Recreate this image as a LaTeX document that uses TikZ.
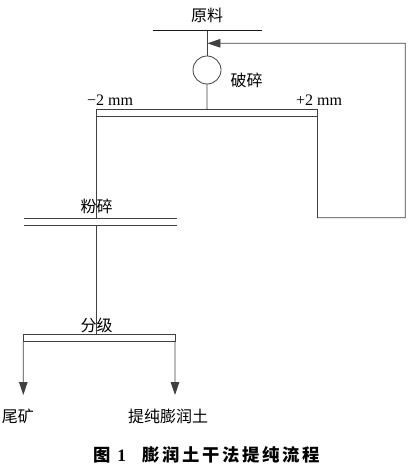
\documentclass[tikz,border=0pt]{standalone}
\usepackage{fontspec}
\setmainfont{Liberation Serif}
\newfontfamily\cjk{Noto Sans CJK SC}
\newfontfamily\cjktitle[LetterSpace=15]{Noto Sans CJK SC}
\usetikzlibrary{arrows.meta,positioning}

\begin{document}
\begin{tikzpicture}[
  x=0.75pt, y=-0.75pt, line width=0.6pt, draw=black!75,
  font=\fontsize{12}{14}\selectfont,
  >={Triangle[length=9.75pt,width=6.4pt]},
  sieve/.style={rectangle, draw=black!75, inner sep=0pt, outer sep=0pt, minimum height=5.6pt},
  crusher/.style={circle, draw=black!75, inner sep=0pt, outer sep=0pt, minimum size=21pt},
  tag/.style={inner sep=0pt, font=\cjk\fontsize{12}{14}\selectfont},
  size/.style={inner sep=0pt, font=\fontsize{12}{14}\selectfont}
]
\useasboundingbox (0,0) rectangle (412,471);

\node[tag] (raw) at (207,15) {原料};
\coordinate (feedL) at (152.7,30.7);
\coordinate (feedR) at (261.7,30.7);
\node[crusher] (crush) at (207,70) {};
\node[tag] (crushtxt) at (246.7,80) {破碎};

\node[sieve, minimum width=165.6pt, minimum height=5.55pt] (sc1) at (207.1,113) {};
\node[size] (minus) at (110,100) {−2 mm};
\node[size] (plus) at (319,100) {+2 mm};

\node[inner sep=0pt, outer sep=0pt, minimum width=114.5pt, minimum height=5pt] (mill) at (100.35,221.65) {};
\node[tag] (milltxt) at (96.7,206.7) {粉碎};

\node[sieve, minimum width=113.8pt, minimum height=5.8pt] (sc2) at (99.15,337.85) {};
\node[tag] (clstxt) at (96.7,325) {分级};

\coordinate (tailend) at (23.3,395);
\coordinate (prodend) at (175,395);
\node[tag] (tail) at (18,416.7) {尾矿};
\node[tag] (prod) at (168,416.7) {提纯膨润土};

\coordinate (ret1) at (317.4,217.7);
\coordinate (ret2) at (405.3,217.7);
\coordinate (ret3) at (405.3,43.3);
\coordinate (retin) at (207.4,43.3);

\draw[draw=black!90] (feedL) -- (feedR);
\draw (crush.north |- feedL) -- (crush.north);
\draw (crush.south) -- (sc1.north);
\draw (mill.north west) -- (mill.north east);
\draw (mill.south west) -- (mill.south east);
\draw (sc1.south west) -- (sc1.south west |- mill.north);
\draw (sc1.south west |- mill.south) -- (sc1.south west |- sc2.north);
\draw[->] (sc2.south west) -- (tailend);
\draw[->] (sc2.south east) -- (prodend);
\draw[->] (sc1.south east) -- (ret1) -- (ret2) -- (ret3) -- (retin);

\node[inner sep=0pt, font=\bfseries\fontsize{13}{15}\selectfont] (figno) at (110,455) {{\cjk\bfseries 图}\hspace{0.35em}1};
\node[inner sep=0pt, font=\cjktitle\bfseries\fontsize{13}{15}\selectfont] (figtitle) at (231,455) {膨润土干法提纯流程};
\end{tikzpicture}
\end{document}
